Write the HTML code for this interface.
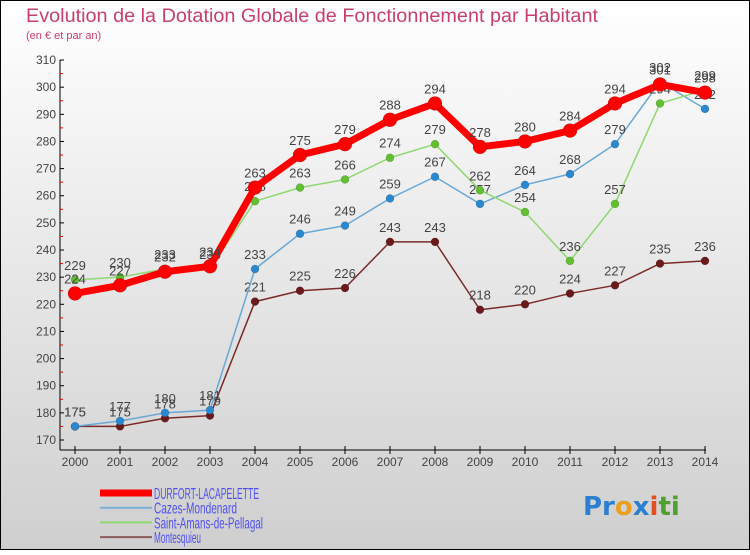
<!DOCTYPE html>
<html><head><meta charset="utf-8"><style>
html,body{margin:0;padding:0}
body{width:750px;height:550px;overflow:hidden;font-family:"Liberation Sans",sans-serif}
</style></head><body>
<svg id="chart" width="750" height="550" xmlns="http://www.w3.org/2000/svg">
<defs><linearGradient id="bg" x1="0" y1="0" x2="0" y2="1"><stop offset="0" stop-color="#ffffff"/><stop offset="1" stop-color="#cfcfcf"/></linearGradient></defs>
<rect x="0.5" y="0.5" width="749" height="549" fill="url(#bg)" stroke="#000"/>
<text x="26" y="22" font-size="19" fill="#c8406a" textLength="572" lengthAdjust="spacingAndGlyphs">Evolution de la Dotation Globale de Fonctionnement par Habitant</text>
<text x="26" y="39" font-size="11" fill="#c8406a">(en € et par an)</text>
<g id="axes"></g>
<g id="series"></g>
<g id="legend"></g>
<text x="583" y="515" font-size="26" font-weight="bold" font-family="DejaVu Sans,sans-serif"><tspan fill="#2a7fd0">Pr</tspan><tspan fill="#e8a020">o</tspan><tspan fill="#2a7fd0">x</tspan><tspan fill="#e05020">i</tspan><tspan fill="#50a030">ti</tspan></text>
</svg>
<script>
const years=[2000,2001,2002,2003,2004,2005,2006,2007,2008,2009,2010,2011,2012,2013,2014];
const yTicks=[170,180,190,200,210,220,230,240,250,260,270,280,290,300,310];
const durfort=[224,227,232,234,263,275,279,288,294,278,280,284,294,301,298];
const cazes=[175,177,180,181,233,246,249,259,267,257,264,268,279,302,292];
const amans=[229,230,233,233,258,263,266,274,279,262,254,236,257,294,299];
const montesquieu=[175,175,178,179,221,225,226,243,243,218,220,224,227,235,236];
const NS="http://www.w3.org/2000/svg";
const X=i=>75+i*45.0;
const Y=v=>440-(v-170)*2.714;
function mk(tag,attrs,parent,txt){const e=document.createElementNS(NS,tag);for(const k in attrs)e.setAttribute(k,attrs[k]);if(txt!==undefined)e.textContent=txt;parent.appendChild(e);return e;}
const ax=document.getElementById('axes');
let e=mk('line',{x1:60,y1:Y(310),x2:60,y2:450,stroke:'#000'},ax);

e=mk('line',{x1:60,y1:450,x2:706,y2:450,stroke:'#000'},ax);

yTicks.forEach(v=>{
 mk('line',{x1:60,y1:Y(v),x2:64,y2:Y(v),stroke:'#000'},ax);
 if(v<310)mk('line',{x1:60,y1:Y(v+5),x2:63,y2:Y(v+5),stroke:'#e00'},ax);
 e=mk('text',{x:56,y:Y(v)+4,'font-size':12,fill:'#444','text-anchor':'end'},ax,String(v));
 
});
years.forEach((y,i)=>{
 mk('line',{x1:X(i),y1:446,x2:X(i),y2:454,stroke:'#000'},ax);
 e=mk('text',{x:X(i),y:466,'font-size':12,fill:'#444','text-anchor':'middle'},ax,String(y));
 
});
const sg=document.getElementById('series');
function series(vals,color,dot,w,r,name){
 const g=mk('g',{},sg);
 
 const pl=mk('polyline',{points:vals.map((v,i)=>X(i)+','+Y(v)).join(' '),fill:'none',stroke:color,'stroke-width':w,'stroke-linejoin':'round'},g);
 
 vals.forEach((v,i)=>{
  const c=mk('circle',{cx:X(i),cy:Y(v),r:r,fill:dot,stroke:'rgba(0,0,0,0.25)','stroke-width':0.5},g);
  
  const t=mk('text',{x:X(i),y:Y(v)-10,'font-size':13,fill:'#444','text-anchor':'middle'},g,String(v));
  
 });
}
series(montesquieu,'#7a2a2a','#6a1a1a',1.5,4,'montesquieu');
series(cazes,'#6aa8d8','#2a88d0',1.5,4,'cazes-mondenard');
series(amans,'#90d870','#60c030',1.5,4,'saint-amans');
series(durfort,'#ff0000','#ff0000',7,7,'durfort-lacapelette');
const lg=document.getElementById('legend');
const legItems=[['DURFORT-LACAPELETTE','#ff0000',7,105],['Cazes-Mondenard','#7ab0d8',2,83],['Saint-Amans-de-Pellagal','#90d870',2,109],['Montesquieu','#8a5a5a',2,47]];
legItems.forEach((it,k)=>{
 const yy=493+k*14.7;
 const g=mk('g',{},lg);
 
 mk('line',{x1:100,y1:yy,x2:152,y2:yy,stroke:it[1],'stroke-width':it[2]},g);
 mk('text',{x:154,y:yy+6,'font-size':16,fill:'#5050f0',textLength:it[3],lengthAdjust:'spacingAndGlyphs'},g,it[0]);
});
</script>
</body></html>
